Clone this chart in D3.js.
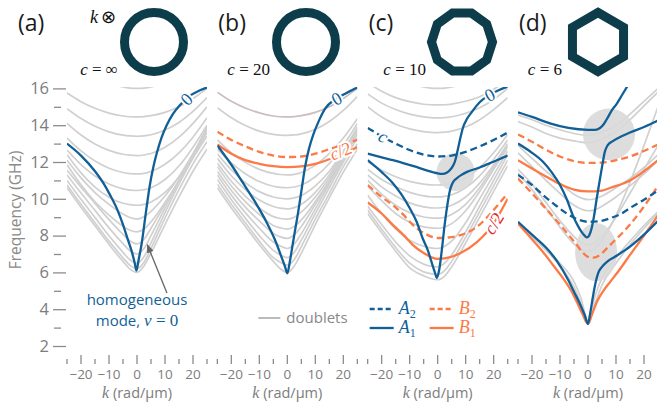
<!DOCTYPE html>
<html><head><meta charset="utf-8">
<script src="https://cdn.jsdelivr.net/npm/d3@7"></script>
<style>body{margin:0;background:#fff} svg{display:block}</style>
</head><body>
<svg id="chart" width="657" height="416"></svg>
<script>
// ---------------- DATA ----------------
const panelLabels = ["(a)","(b)","(c)","(d)"];
const symmetryOrders = ["∞","20","10","6"];
const shapeSides = [0,0,10,6];
const kTicksMajor = [-20,-10,0,10,20];
const kTicksMinor = [-25,-15,-5,5,15,25];
const fTicksMajor = [2,4,6,8,10,12,14,16];
const fTicksMinor = [3,5,7,9,11,13,15];
const kGrid = [-25,-20,-15,-10,-5,-2.5,0,2.5,5,10,15,20,25];

// doublets (gray), frequency at kGrid
const grayA = [
 [17.5,17.0,16.6,16.3,16.08,16.02,16.0,16.02,16.08,16.3,16.6,17.0,17.5],
 [15.75,15.28,14.92,14.66,14.5,14.46,14.45,14.47,14.52,14.7,15.0,15.45,16.0],
 [14.9,14.36,13.94,13.64,13.46,13.42,13.4,13.42,13.48,13.74,14.15,14.75,15.5],
 [14.1,13.47,12.98,12.63,12.42,12.37,12.35,12.38,12.46,12.8,13.35,14.1,15.0],
 [13.3,12.6,12.05,11.66,11.43,11.37,11.35,11.38,11.48,11.88,12.5,13.35,14.4],
 [12.65,11.86,11.24,10.8,10.54,10.47,10.45,10.49,10.6,11.05,11.78,12.8,14.0],
 [12.4,11.41,10.64,10.09,9.76,9.68,9.65,9.7,9.83,10.35,11.2,12.35,13.7],
 [12.1,11.14,10.34,9.7,9.17,8.98,8.9,9.02,9.32,10.15,11.2,12.45,13.8],
 [11.85,10.76,9.84,9.11,8.51,8.29,8.2,8.36,8.75,9.8,11.0,12.4,13.9],
 [11.55,10.63,9.75,8.87,8.07,7.71,7.55,7.8,8.4,9.7,11.0,12.35,13.7],
 [11.3,10.31,9.37,8.42,7.56,7.17,7.0,7.3,8.0,9.5,10.95,12.3,13.6],
 [11.0,9.97,8.98,7.99,7.09,6.68,6.5,6.85,7.6,9.25,10.8,12.2,13.4],
 [10.75,9.7,8.7,7.7,6.79,6.38,6.2,6.55,7.3,8.95,10.5,11.9,13.1],
 [10.6,9.54,8.53,7.52,6.6,6.18,6.0,6.35,7.05,8.6,10.1,11.5,12.7]
];
const pinkB = [15.8,15.3,14.93,14.67,14.5,14.46,14.45,14.47,14.52,14.7,15.0,15.45,16.0];
const grayB = [
 [14.95,14.4,13.98,13.68,13.5,13.46,13.45,13.47,13.53,13.78,14.2,14.8,15.55],
 [13.2,12.5,11.98,11.6,11.38,11.32,11.3,11.33,11.43,11.83,12.45,13.3,14.35],
 [12.7,11.95,11.36,10.94,10.68,10.62,10.6,10.64,10.75,11.2,11.92,12.9,14.1],
 [12.45,11.58,10.88,10.39,10.1,10.03,10.0,10.05,10.18,10.7,11.5,12.6,13.9],
 [12.2,11.25,10.5,9.93,9.58,9.49,9.45,9.52,9.7,10.35,11.3,12.5,13.85],
 [11.95,10.95,10.15,9.5,9.03,8.93,8.9,9.0,9.28,10.1,11.15,12.4,13.75],
 [11.75,10.7,9.85,9.15,8.55,8.42,8.35,8.5,8.85,9.85,11.0,12.3,13.7],
 [11.5,10.45,9.55,8.8,8.12,7.93,7.85,8.05,8.5,9.7,10.9,12.25,13.6],
 [11.3,10.2,9.25,8.4,7.65,7.43,7.3,7.55,8.1,9.45,10.8,12.15,13.5],
 [11.05,9.95,8.95,8.0,7.2,6.95,6.8,7.1,7.75,9.2,10.6,12.0,13.3],
 [10.8,9.7,8.7,7.7,6.8,6.55,6.4,6.7,7.4,8.9,10.3,11.75,13.0],
 [10.6,9.5,8.5,7.5,6.6,6.2,6.0,6.35,7.05,8.6,10.05,11.45,12.7]
];
const grayC = [
 [17.5,17.0,16.6,16.3,16.08,16.02,16.0,16.02,16.08,16.3,16.6,17.0,17.5],
 [16.3,15.85,15.5,15.28,15.14,15.11,15.1,15.11,15.15,15.3,15.55,15.95,16.5],
 [15.7,15.2,14.85,14.6,14.45,14.41,14.4,14.41,14.46,14.65,14.95,15.4,16.0],
 [15.0,14.45,14.05,13.8,13.65,13.61,13.6,13.62,13.68,13.9,14.3,14.85,15.5],
 [12.0,11.55,11.2,10.95,10.8,10.76,10.75,10.77,10.85,11.15,11.7,12.5,13.5],
 [11.6,11.05,10.65,10.35,10.16,10.11,10.1,10.13,10.22,10.6,11.25,12.15,13.2],
 [11.3,10.65,10.15,9.78,9.56,9.51,9.5,9.54,9.65,10.1,10.85,11.85,13.0],
 [11.0,10.25,9.65,9.25,9.01,8.96,8.95,9.0,9.15,9.7,10.6,11.7,12.9],
 [10.7,9.9,9.2,8.72,8.47,8.42,8.4,8.47,8.65,9.35,10.4,11.6,12.8],
 [10.2,9.2,8.35,7.75,7.42,7.33,7.3,7.42,7.7,8.7,10.0,11.3,12.6],
 [9.6,8.6,7.65,6.9,6.45,6.34,6.3,6.5,6.95,8.2,9.6,11.0,12.4],
 [9.4,8.35,7.35,6.5,6.03,5.93,5.9,6.1,6.6,7.9,9.3,10.7,12.1],
 [9.2,8.15,7.15,6.25,5.82,5.67,5.6,5.8,6.3,7.6,9.0,10.4,11.8]
];
const grayD = [
 [14.55,14.3,14.0,13.75,13.55,13.48,13.45,13.5,13.62,14.0,14.6,15.3,16.0],
 [14.2,13.9,13.55,13.3,13.15,13.08,13.05,13.1,13.25,13.65,14.3,15.05,15.8],
 [12.9,12.2,11.5,10.85,10.25,10.05,9.95,10.0,10.15,10.6,11.1,11.7,12.4],
 [12.5,11.75,11.0,10.3,9.65,9.45,9.35,9.4,9.6,10.1,10.7,11.35,12.1],
 [11.6,10.8,9.8,8.8,7.95,7.62,7.5,7.6,7.95,9.0,10.3,11.6,12.9],
 [11.4,10.5,9.5,8.45,7.55,7.25,7.15,7.3,7.75,9.1,10.9,12.9,15.0],
 [8.7,7.95,7.2,6.35,5.2,4.3,3.3,4.3,5.3,6.5,7.5,8.4,9.2],
 [8.7,7.95,7.25,6.5,5.5,4.6,3.35,4.7,5.7,6.8,7.7,8.55,9.3]
];

// coloured modes: [k, f]
const blueA = [[-25,13.0],[-20,12.35],[-15,11.5],[-12,10.85],[-9.6,10.2],[-7,9.4],[-5,8.6],[-3.2,7.75],[-1.8,7.1],[-0.8,6.5],[-0.2,6.1],[0.6,6.7],[1.7,7.6],[2.9,8.95],[3.8,9.95],[4.6,10.75],[5.8,11.7],[7.1,12.5],[8.7,13.3],[10.6,14.0],[12.8,14.6],[15.4,15.1],[18.5,15.55],[22.5,15.9],[25,16.05]];
const blueB = [[-25,12.9],[-20,11.85],[-16,10.9],[-12,9.95],[-7.5,8.75],[-4.5,7.8],[-2,6.8],[-0.8,6.3],[0,5.95],[0.8,6.5],[2,7.6],[3,8.5],[3.9,9.3],[5,10.4],[6.3,11.7],[7.7,12.7],[9.3,13.5],[11.3,14.25],[13.5,14.9],[17,15.4],[20.5,15.7],[25,16.05]];
const bB2 = [[-25,13.65],[-20,13.2],[-15,12.85],[-10,12.55],[-5,12.35],[0,12.27],[5,12.3],[10,12.45],[15,12.7],[20,12.95],[25,13.2]];
const bB1 = [[-25,12.95],[-20,12.45],[-15,12.1],[-10,11.9],[-5,11.77],[0,11.72],[5,11.76],[10,11.9],[15,12.15],[20,12.45],[25,12.8]];

const cA1up = [[-25,12.45],[-20,12.25],[-16,12.1],[-12,11.93],[-7.6,11.73],[-4,11.55],[-1.8,11.45],[0,11.38],[1.8,11.35],[3.2,11.42],[4.3,11.55],[5.3,11.75],[6.1,12.0],[6.8,12.4],[7.3,12.75],[8.1,13.3],[9,13.85],[10.5,14.35],[12.1,14.7],[15,15.25],[18,15.6],[21,15.85],[25,16.1]];
const cA1lo = [[-25,12.1],[-20,11.45],[-16,10.85],[-13,10.25],[-10,9.5],[-7.5,8.75],[-5.4,7.87],[-3.5,7.2],[-2.2,6.57],[-1,6.0],[-0.3,5.7],[0.5,6.1],[1.4,7.1],[2.5,8.6],[3.6,9.8],[4.3,10.4],[5,10.75],[5.8,10.97],[6.7,11.1],[8.5,11.3],[10.3,11.45],[15,11.7],[19.7,12.0],[25,12.35]];
const cA2 = [[-25,13.85],[-20,13.4],[-15,13.0],[-10,12.65],[-5,12.4],[0,12.3],[5,12.35],[10,12.55],[15,12.85],[20,13.2],[25,13.6]];
const cB2 = [[-25,10.75],[-20,10.1],[-16,9.66],[-12,9.1],[-8.9,8.58],[-5,8.15],[0,7.87],[5,7.92],[8.2,8.03],[14,8.47],[18,9.05],[22,9.75],[25,10.3]];
const cB1 = [[-25,9.8],[-20,9.2],[-16,8.58],[-12,8.0],[-8.9,7.5],[-5,7.05],[0,6.73],[5,6.85],[8.2,7.05],[14,7.65],[19.7,8.6],[22.5,9.3],[25,10.0]];

const dA1up = [[-25,14.7],[-20,14.45],[-13.6,14.1],[-7,13.85],[0,13.75],[2.5,13.75],[4.3,13.85],[5.6,14.05],[6.8,14.35],[8.5,14.8],[10.2,15.15],[12,15.6],[13.8,16.05],[16,16.6]];
const dA1mid = [[-25,13.0],[-20,12.5],[-16,12.0],[-13,11.45],[-10,10.75],[-7.5,9.95],[-5.4,9.1],[-3.5,8.5],[-2.3,8.2],[-1.2,8.0],[-0.4,7.9],[0.4,8.0],[1.3,8.4],[2.2,9.1],[3.1,10.0],[4.3,11.1],[5.2,11.9],[6,12.55],[7,12.9],[9,13.15],[12,13.4],[15,13.6],[20,13.9],[25,14.25]];
const dA1lo = [[-25,8.75],[-20,8.05],[-15,7.35],[-11,6.6],[-7.1,5.6],[-5,4.95],[-2.9,4.3],[-1.2,3.7],[0,3.2],[0.8,3.8],[1.9,4.8],[2.8,5.5],[3.6,5.95],[5,6.3],[7,6.6],[9.6,6.85],[15,7.4],[20,8.05],[25,8.8]];
const dA2 = [[-25,11.3],[-20,10.75],[-16,10.2],[-12,9.7],[-7.6,9.2],[-4,8.9],[0,8.75],[4,8.78],[8,8.95],[12,9.2],[15,9.5],[20,9.95],[25,10.45]];
const dB2up = [[-25,13.5],[-20,13.1],[-16,12.75],[-10,12.3],[-5,12.05],[0,11.95],[5,11.97],[10,12.1],[15,12.3],[20,12.6],[25,12.95]];
const dB1up = [[-25,12.1],[-20,11.65],[-16,11.3],[-10,10.8],[-5,10.5],[0,10.4],[5,10.45],[8,10.6],[15,11.0],[20,11.5],[25,12.1]];
const dB2lo = [[-25,11.1],[-20,10.3],[-17,9.8],[-13.5,9.2],[-10,8.6],[-7,8.05],[-4,7.5],[-2,7.1],[0,6.85],[2,6.8],[4.3,6.95],[7,7.35],[9,7.65],[12,8.1],[15,8.6],[19.6,9.5],[25,10.7]];
const dB1lo = [[-25,8.65],[-20,7.8],[-16,7.1],[-12.5,6.4],[-9,5.7],[-6,5.0],[-4,4.4],[-2,3.75],[0,3.2],[1.5,3.75],[3.2,4.4],[5.5,5.0],[8,5.5],[11.5,6.2],[15,6.95],[20,8.0],[25,9.1]];

// anticrossing highlights: [k, f, half-width in k, half-height in f]
const blobsC = [[6.4,11.46,6.8,1.03]];
const blobsD = [[7.5,13.5,9.3,1.41],[2.9,7.1,7.5,1.58]];
// arrow for homogeneous mode label: [k,f] from -> to
const arrowA = [[10.7,4.88],[3.7,7.5]];

// ---------------- DRAWING ----------------
const C = {blue:"#115f97", orange:"#fb7a46", gray:"#d0d0d0", pink:"#cdbebe", ring:"#0d3d4b",
           red:"#e3262f", axis:"#8c8c8c", text:"#7d7d7d", blob:"#d9d9d9"};
const SERIF = "'Liberation Serif','DejaVu Serif',serif";
const SANS = "'Open Sans','Noto Sans',sans-serif";
const svg = d3.select("#chart");
const defs = svg.append("defs");
defs.append("marker").attr("id","ah").attr("viewBox","0 0 10 8").attr("refX",9).attr("refY",4)
  .attr("markerWidth",9).attr("markerHeight",7).attr("markerUnits","userSpaceOnUse").attr("orient","auto")
  .append("path").attr("d","M0,0 L10,4 L0,8 Z").attr("fill","#666");

const panelW = 140, panelStep = 150.33, left0 = 67;
const y = d3.scaleLinear().domain([2,16]).range([346, 88.4]);

const panels = [
 {gray:grayA, pink:null, blobs:[], lines:[{d:blueA,c:"blue"}]},
 {gray:grayB, pink:pinkB, blobs:[], lines:[{d:bB2,c:"orange",dash:true},{d:bB1,c:"orange"},{d:blueB,c:"blue"}]},
 {gray:grayC, pink:null, blobs:blobsC, lines:[{d:cB2,c:"orange",dash:true},{d:cB1,c:"orange"},{d:cA2,c:"blue",dash:true},{d:cA1lo,c:"blue"},{d:cA1up,c:"blue"}]},
 {gray:grayD, pink:null, blobs:blobsD, lines:[{d:dB2up,c:"orange",dash:true},{d:dB1up,c:"orange"},{d:dB2lo,c:"orange",dash:true},{d:dB1lo,c:"orange"},{d:dA2,c:"blue",dash:true},{d:dA1lo,c:"blue"},{d:dA1mid,c:"blue"},{d:dA1up,c:"blue"}]}
];
const shapeCx = [154, 306, 462, 598];

// y axis
const yMaj = svg.append("g").attr("transform","translate(66,0)")
  .call(d3.axisLeft(y).tickValues(fTicksMajor).tickSize(13).tickPadding(4));
const yMin = svg.append("g").attr("transform","translate(61,0)")
  .call(d3.axisLeft(y).tickValues(fTicksMinor).tickSize(7).tickFormat(""));
[yMaj,yMin].forEach(g=>{g.select(".domain").remove(); g.selectAll("line").attr("stroke",C.axis).attr("stroke-width",1.3);});
yMaj.selectAll("text").attr("fill",C.text).attr("font-family",SANS).attr("font-size",16.5);
svg.append("text").attr("transform","translate(21,210) rotate(-90)").attr("text-anchor","middle")
  .attr("font-family",SANS).attr("font-size",15.5).attr("fill","#8a8a8a").text("Frequency (GHz)");

panels.forEach((p,i)=>{
  const L = left0 + panelStep*i;
  const x = d3.scaleLinear().domain([-25,25]).range([L, L+panelW]);
  const line = d3.line().x(d=>x(d[0])).y(d=>y(d[1])).curve(d3.curveMonotoneX);
  const clipId = "clip"+i;
  defs.append("clipPath").attr("id",clipId).append("rect")
    .attr("x",L).attr("y",87).attr("width",panelW).attr("height",265);
  const g = svg.append("g").attr("clip-path",`url(#${clipId})`);
  p.gray.forEach(arr=>{
    g.append("path").attr("d",line(kGrid.map((k,j)=>[k,arr[j]]))).attr("fill","none")
     .attr("stroke",C.gray).attr("stroke-width",1.7);
  });
  if(p.pink) g.append("path").attr("d",line(kGrid.map((k,j)=>[k,p.pink[j]]))).attr("fill","none")
     .attr("stroke",C.pink).attr("stroke-width",1.7);
  p.blobs.forEach(b=>{
    g.append("ellipse").attr("cx",x(b[0])).attr("cy",y(b[1]))
     .attr("rx",x(b[0]+b[2])-x(b[0])).attr("ry",y(b[1])-y(b[1]+b[3]))
     .attr("fill",C.blob).attr("opacity",0.9);
  });
  p.lines.forEach(s=>{
    g.append("path").attr("d",line(s.d)).attr("fill","none").attr("stroke",C[s.c])
     .attr("stroke-width",2.3).attr("stroke-dasharray",s.dash?"7,4":null);
  });
  p.x = x; p.L = L;

  // x axis ticks
  const xt = svg.append("g");
  kTicksMajor.forEach(k=>xt.append("line").attr("x1",x(k)).attr("x2",x(k)).attr("y1",355).attr("y2",364));
  kTicksMinor.forEach(k=>xt.append("line").attr("x1",x(k)).attr("x2",x(k)).attr("y1",359).attr("y2",364));
  xt.selectAll("line").attr("stroke",C.axis).attr("stroke-width",1.3);
  const fmt = d3.format("d");
  kTicksMajor.forEach(k=>xt.append("text").attr("x",x(k)).attr("y",379).attr("text-anchor","middle")
     .attr("font-family",SANS).attr("font-size",13.5).attr("fill",C.text).text(fmt(k)));
  const xl = svg.append("text").attr("x",x(0)).attr("y",398).attr("text-anchor","middle")
     .attr("font-size",14.5).attr("fill",C.text);
  xl.append("tspan").attr("font-family",SERIF).attr("font-style","italic").attr("font-size",16).text("k");
  xl.append("tspan").attr("font-family",SANS).text(" (rad/μm)");

  // panel letter
  svg.append("text").attr("x", i===0 ? 18 : L+1).attr("y",31).attr("font-family",SANS)
     .attr("font-size",23).attr("fill","#1a1a1a").text(panelLabels[i]);
  // cross-section shape
  const cx = shapeCx[i], cy = 42;
  if(shapeSides[i]===0){
    svg.append("circle").attr("cx",cx).attr("cy",cy).attr("r",29.5).attr("fill","none")
      .attr("stroke",C.ring).attr("stroke-width",9);
  } else {
    const n = shapeSides[i];
    const R = n===10 ? 30.5 : 29.5;
    const off = n===10 ? -90+18 : -90;
    const pts = d3.range(n).map(j=>{const a=(off+360*j/n)*Math.PI/180; return [cx+R*Math.cos(a), cy+R*Math.sin(a)];});
    svg.append("path").attr("d","M"+pts.join("L")+"Z").attr("fill","none")
      .attr("stroke",C.ring).attr("stroke-width",9).attr("stroke-linejoin","miter");
  }
  const ct = svg.append("text").attr("x",cx-36).attr("y",75).attr("text-anchor","end")
     .attr("font-family",SERIF).attr("font-size",17).attr("fill","#111");
  ct.append("tspan").attr("font-style","italic").text("c");
  ct.append("tspan").text(" = "+symmetryOrders[i]);
});

// helper: point & angle on a curve at k
function onCurve(p, data, k){
  let j = 0; while(j<data.length-2 && data[j+1][0] < k) j++;
  const a = data[j], b = data[j+1], t = (k-a[0])/(b[0]-a[0]);
  const f = a[1] + t*(b[1]-a[1]);
  const ang = Math.atan2(y(b[1])-y(a[1]), p.x(b[0])-p.x(a[0]))*180/Math.PI;
  return {px:p.x(k), py:y(f), ang};
}
function curveLabel(p, data, k, color, size){
  const q = onCurve(p, data, k);
  return svg.append("text").attr("transform",`translate(${q.px},${q.py}) rotate(${q.ang})`)
    .attr("text-anchor","middle").attr("dy","0.35em").attr("font-family",SERIF).attr("font-size",size)
    .attr("fill",color).attr("stroke","#fff").attr("stroke-width",4).attr("paint-order","stroke");
}
curveLabel(panels[0], blueA, 17.6, C.blue, 18).text("0");
curveLabel(panels[1], blueB, 17.6, C.blue, 18).text("0");
curveLabel(panels[2], cA1up, 18.6, C.blue, 18).text("0");
// c/2 and c labels
{
  const q = onCurve(panels[1], bB1, 19);
  const t = svg.append("text").attr("transform",`translate(${q.px},${q.py-4}) rotate(-22)`)
   .attr("text-anchor","middle").attr("dy","0.35em").attr("font-family",SERIF).attr("font-size",18)
   .attr("fill",C.orange).attr("stroke","#fff").attr("stroke-width",4).attr("paint-order","stroke");
  t.append("tspan").attr("font-style","italic").text("c"); t.append("tspan").text("/2");
  const q2 = onCurve(panels[2], cB1, 20);
  const t2 = svg.append("text").attr("transform",`translate(${q2.px},${q2.py}) rotate(${q2.ang})`)
   .attr("text-anchor","middle").attr("dy","0.35em").attr("font-family",SERIF).attr("font-size",18)
   .attr("fill",C.red).attr("stroke","#fff").attr("stroke-width",4).attr("paint-order","stroke");
  t2.append("tspan").attr("font-style","italic").text("c"); t2.append("tspan").text("/2");
  const q3 = onCurve(panels[2], cA2, -19.5);
  svg.append("text").attr("transform",`translate(${q3.px},${q3.py}) rotate(${q3.ang})`)
   .attr("text-anchor","middle").attr("dy","0.3em").attr("font-family",SERIF).attr("font-style","italic").attr("font-size",18)
   .attr("fill",C.blue).attr("stroke","#fff").attr("stroke-width",4).attr("paint-order","stroke").text("c");
}

// (a) k ⊗
{
  const t = svg.append("text").attr("x",90).attr("y",23).attr("font-size",18).attr("fill","#111");
  t.append("tspan").attr("font-family",SERIF).attr("font-style","italic").text("k");
  t.append("tspan").attr("font-family","'DejaVu Sans',sans-serif").attr("dx",3).text("⊗");
}
// homogeneous mode annotation
{
  const p = panels[0];
  svg.append("line").attr("x1",p.x(arrowA[0][0])).attr("y1",y(arrowA[0][1]))
    .attr("x2",p.x(arrowA[1][0])).attr("y2",y(arrowA[1][1])).attr("stroke","#666").attr("stroke-width",1.3)
    .attr("marker-end","url(#ah)");
  svg.append("text").attr("x",p.x(0)).attr("y",305).attr("text-anchor","middle").attr("font-family",SANS)
    .attr("font-size",15).attr("fill",C.blue).text("homogeneous");
  const t = svg.append("text").attr("x",p.x(0)).attr("y",326).attr("text-anchor","middle").attr("font-family",SANS)
    .attr("font-size",15).attr("fill",C.blue);
  t.append("tspan").text("mode, ");
  t.append("tspan").attr("font-family",SERIF).attr("font-style","italic").attr("font-size",17).text("ν");
  t.append("tspan").attr("font-family",SERIF).attr("font-size",17).text(" = 0");
}
// doublets legend (b)
{
  const L = panels[1].L;
  svg.append("line").attr("x1",L+41).attr("x2",L+63).attr("y1",318).attr("y2",318).attr("stroke","#aaa").attr("stroke-width",1.6);
  svg.append("text").attr("x",L+69).attr("y",323).attr("font-family",SANS).attr("font-size",15).attr("fill","#888").text("doublets");
}
// A/B legend (c)
{
  const L = panels[2].L;
  const items = [
    {x:L+2, yy:309, c:C.blue, dash:true, n:"A", s:"2"},
    {x:L+62, yy:309, c:C.orange, dash:true, n:"B", s:"2"},
    {x:L+2, yy:328, c:C.blue, dash:false, n:"A", s:"1"},
    {x:L+62, yy:328, c:C.orange, dash:false, n:"B", s:"1"}
  ];
  items.forEach(it=>{
    svg.append("line").attr("x1",it.x).attr("x2",it.x+24).attr("y1",it.yy).attr("y2",it.yy)
      .attr("stroke",it.c).attr("stroke-width",2.3).attr("stroke-dasharray",it.dash?"5,3":null);
    const t = svg.append("text").attr("x",it.x+29).attr("y",it.yy+5).attr("font-family",SERIF).attr("fill",it.c).attr("font-size",18);
    t.append("tspan").attr("font-style","italic").text(it.n);
    t.append("tspan").attr("font-size",12).attr("dy",4).text(it.s);
  });
}
</script>
</body></html>
